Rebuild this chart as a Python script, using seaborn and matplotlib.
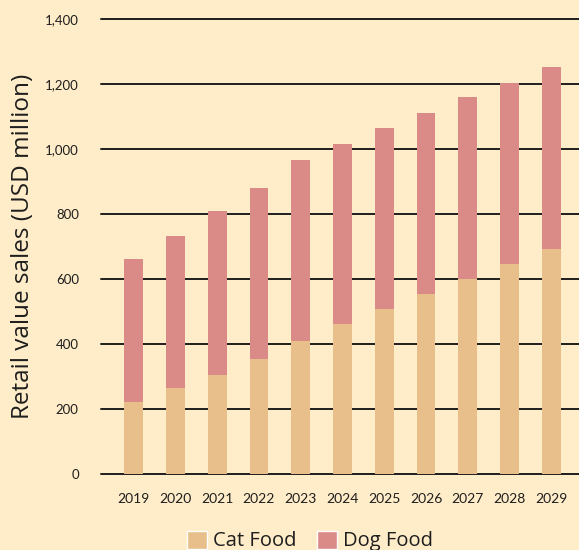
import numpy as np
import pandas as pd
import matplotlib
matplotlib.use("Agg")
import matplotlib.pyplot as plt
import seaborn as sns
from matplotlib.patches import Patch

# values (USD million)
years = ["2019", "2020", "2021", "2022", "2023", "2024", "2025", "2026", "2027", "2028", "2029"]
cat_food = [221, 265, 305, 354, 409, 461, 508, 554, 600, 646, 692]
dog_food = [440, 467, 504, 526, 557, 554, 557, 557, 560, 557, 560]
y_ticks = [0, 200, 400, 600, 800, 1000, 1200, 1400]

BG = "#FFECC9"
CAT = "#E8BF8A"
DOG = "#DA8A87"
INK = "#1E1E1E"

sns.set_theme(style="white")
plt.rcParams["font.family"] = ["Lato", "DejaVu Sans"]
WIDE = ["Open Sans", "DejaVu Sans"]

df = pd.DataFrame({"year": years, "cat": cat_food, "dog": dog_food})
df["total"] = df["cat"] + df["dog"]

fig = plt.figure(figsize=(5.79, 5.5), dpi=100, facecolor=BG)
ax = fig.add_axes([101 / 579, 1 - 474 / 550, 478 / 579, 455 / 550])
ax.set_facecolor(BG)

# stacked bars: total in dog colour, cat portion drawn over it
sns.barplot(data=df, x="year", y="total", color=DOG, width=0.45, saturation=1,
            linewidth=0, edgecolor="none", ax=ax, zorder=2)
sns.barplot(data=df, x="year", y="cat", color=CAT, width=0.45, saturation=1,
            linewidth=0, edgecolor="none", ax=ax, zorder=3)

ax.set_ylim(0, 1400)
ax.set_xlim(-0.78, 10.66)
ax.set_yticks(y_ticks)
ax.set_yticklabels([f"{v:,}" for v in y_ticks], fontsize=9.5, color=INK)
ax.tick_params(axis="y", length=0, pad=16)
ax.tick_params(axis="x", length=0, pad=14, labelsize=10, labelcolor=INK)
ax.yaxis.grid(True, color=INK, linewidth=1.4, zorder=1)
for gl in ax.get_ygridlines():
    gl.set_clip_on(False)
ax.set_axisbelow(True)
for s in ax.spines.values():
    s.set_visible(False)
ax.set_xlabel("")
ax.set_ylabel("Retail value sales (USD million)", fontsize=17.5, color=INK, family=WIDE)
ax.yaxis.set_label_coords(-(101 - 35) / 478, (474 - 246) / 455)

handles = [Patch(facecolor=CAT, label="Cat Food"), Patch(facecolor=DOG, label="Dog Food")]
fig.legend(handles=handles, loc="center", bbox_to_anchor=(310 / 579, 1 - 541 / 550),
           ncol=2, frameon=False, prop={"family": WIDE, "size": 14.5},
           handlelength=1.0, handleheight=1.0,
           handletextpad=0.3, columnspacing=1.0, labelcolor=INK)

fig.savefig("out.png", dpi=100, facecolor=BG)
